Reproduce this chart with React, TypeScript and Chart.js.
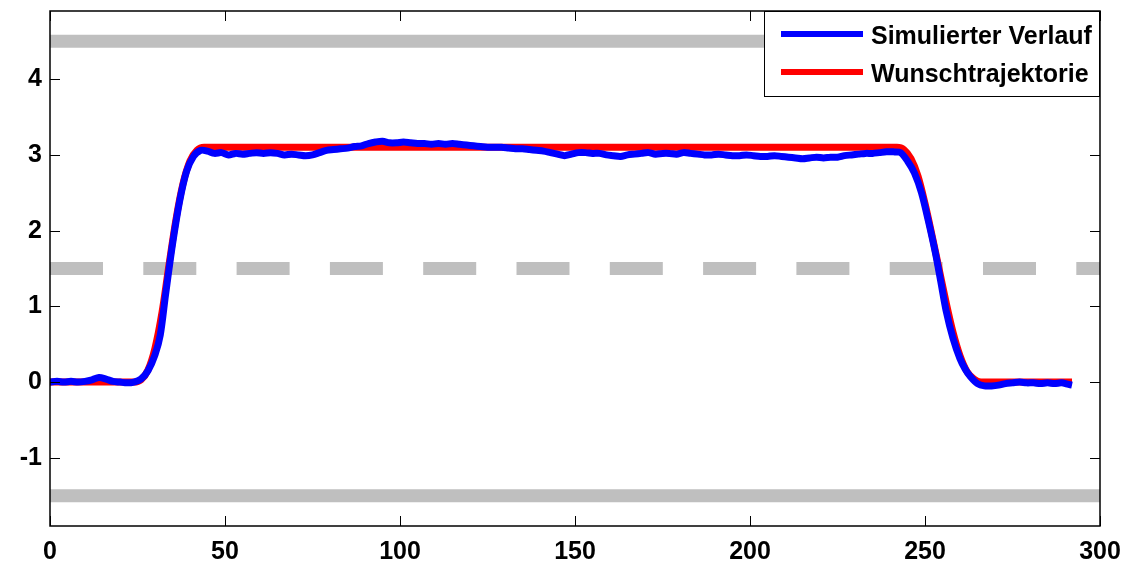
import React, { useEffect, useRef } from "react";
import { Chart, registerables } from "chart.js";

Chart.register(...registerables);

const xTicks = [0, 50, 100, 150, 200, 250, 300];
const yTicks = [-1, 0, 1, 2, 3, 4];

const seriesLabels = ["Simulierter Verlauf", "Wunschtrajektorie"];

const blueX = [
  0, 2, 4, 6, 8, 10, 12, 14, 16, 18, 20, 22, 24, 26, 28, 30, 31.5, 33, 35, 37, 39, 41, 43, 45, 47, 49,
  51, 53, 55, 57, 59, 61, 63, 65, 67, 69, 71, 73, 75, 77, 79, 81, 83, 85, 87, 89, 91, 93, 95, 97, 99,
  101, 103, 105, 107, 109, 111, 113, 115, 117, 119, 121, 123, 125, 127, 129, 131, 133, 135, 137, 139,
  141, 143, 145, 147, 149, 151, 153, 155, 157, 159, 161, 163, 165, 167, 169, 171, 173, 175, 177, 179,
  181, 183, 185, 187, 189, 191, 193, 195, 197, 199, 201, 203, 205, 207, 209, 211, 213, 215, 217, 219,
  221, 223, 225, 227, 229, 231, 233, 235, 237, 239, 241, 243, 245, 247, 249, 251, 253, 254.5, 256, 258,
  260, 261.5, 263, 265, 267, 269, 271, 273, 275, 277, 279, 281, 283, 285, 287, 289, 291, 292,
];
const blueY = [
  0.0, 0.01, 0.0, 0.01, 0.0, 0.01, 0.03, 0.06, 0.04, 0.01, 0.0, -0.01, 0.0, 0.04, 0.15, 0.36, 0.62, 1.15,
  1.82, 2.38, 2.78, 2.98, 3.06, 3.05, 3.02, 3.03,
  3.0, 3.02, 3.01, 3.02, 3.03, 3.02, 3.03, 3.02, 3.0, 3.01, 3.0, 2.99, 3.0, 3.03, 3.06, 3.07, 3.08, 3.09,
  3.11, 3.12, 3.15, 3.17, 3.18, 3.16, 3.16,
  3.17, 3.16, 3.15, 3.15, 3.14, 3.15, 3.14, 3.15, 3.14, 3.13, 3.12, 3.11, 3.1, 3.1, 3.1, 3.09, 3.08, 3.08,
  3.07, 3.06,
  3.05, 3.03, 3.01, 2.99, 3.01, 3.03, 3.03, 3.02, 3.02, 3.0, 2.99, 2.98, 3.0, 3.01, 3.02, 3.03, 3.01, 3.02,
  3.02, 3.01,
  3.03, 3.02, 3.01, 3.0, 3.0, 3.01, 3.0, 2.99, 2.99, 3.0, 2.99, 2.98, 2.98, 2.99, 2.98, 2.97, 2.96, 2.95,
  2.96, 2.97,
  2.96, 2.97, 2.97, 2.99, 3.0, 3.01, 3.02, 3.02, 3.03, 3.04, 3.04, 3.03, 2.92, 2.76, 2.5, 2.12, 1.7, 1.33,
  0.95, 0.58,
  0.31, 0.17, 0.07, -0.02, -0.05, -0.05, -0.04, -0.02, -0.01, 0.0, -0.01, -0.01, -0.02, -0.01, -0.02,
  -0.01, -0.03, -0.04,
];

const redX = [0, 24, 26, 28, 30, 32, 34, 36, 38, 40, 42, 44, 240, 242, 244, 246, 248, 250, 252, 254, 256, 258, 260, 262, 264, 266, 292];
const redY = [0, 0, 0.03, 0.16, 0.45, 0.92, 1.55, 2.15, 2.62, 2.92, 3.06, 3.1, 3.1, 3.1, 3.07, 2.95, 2.72, 2.36, 1.94, 1.5, 1.06, 0.66, 0.35, 0.14, 0.04, 0.0, 0.0];

const limitUpper = 4.5;
const limitLower = -1.5;
const limitMid = 1.5;
const xMin = 0;
const xMax = 300;
const yMin = -1.9;
const yMax = 4.9;

const BLUE = "#0000ff";
const RED = "#ff0000";
const GRAY = "#bfbfbf";
const FONT = "'Liberation Sans', Arial, sans-serif";

const framePlugin = {
  id: "framePlugin",
  afterDraw(chart: any) {
    const { ctx, chartArea, scales } = chart;
    const { left, right, top, bottom } = chartArea;
    ctx.save();
    ctx.strokeStyle = "#000";
    ctx.lineWidth = 1.5;
    ctx.strokeRect(left, top, right - left, bottom - top);
    ctx.lineWidth = 1;
    const tl = 10;
    ctx.beginPath();
    for (const v of xTicks) {
      const px = Math.round(scales.x.getPixelForValue(v)) + 0.5;
      ctx.moveTo(px, bottom);
      ctx.lineTo(px, bottom - tl);
      ctx.moveTo(px, top);
      ctx.lineTo(px, top + tl);
    }
    for (const v of yTicks) {
      const py = Math.round(scales.y.getPixelForValue(v)) + 0.5;
      ctx.moveTo(left, py);
      ctx.lineTo(left + tl, py);
      ctx.moveTo(right, py);
      ctx.lineTo(right - tl, py);
    }
    ctx.stroke();

    // legend
    const lx = 764;
    const ly = top;
    const lw = right - lx;
    const lh = 86;
    ctx.fillStyle = "#fff";
    ctx.fillRect(lx, ly, lw, lh);
    ctx.strokeStyle = "#000";
    ctx.lineWidth = 1;
    ctx.strokeRect(lx + 0.5, ly + 0.5, lw - 1, lh - 1);
    const rows = [
      { color: BLUE, label: seriesLabels[0], y: ly + 23 },
      { color: RED, label: seriesLabels[1], y: ly + 61 },
    ];
    for (const r of rows) {
      ctx.strokeStyle = r.color;
      ctx.lineWidth = 6;
      ctx.beginPath();
      ctx.moveTo(781, r.y);
      ctx.lineTo(863, r.y);
      ctx.stroke();
      ctx.fillStyle = "#000";
      ctx.font = `bold 25px ${FONT}`;
      ctx.textBaseline = "alphabetic";
      ctx.textAlign = "left";
      ctx.fillText(r.label, 871, r.y + 9.5);
    }
    ctx.restore();
  },
};

export default function App() {
  const canvasRef = useRef<HTMLCanvasElement | null>(null);

  useEffect(() => {
    document.body.style.margin = "0";
    const canvas = canvasRef.current;
    if (!canvas) return;
    const blueData = blueX.map((x, i) => ({ x, y: blueY[i] }));
    const redData = redX.map((x, i) => ({ x, y: redY[i] }));
    const hLine = (y: number) => [
      { x: xMin, y },
      { x: xMax, y },
    ];

    const chart = new Chart(canvas, {
      type: "line",
      data: {
        datasets: [
          {
            label: seriesLabels[0],
            data: blueData,
            borderColor: BLUE,
            borderWidth: 7,
            pointRadius: 0,
            tension: 0.3,
            borderJoinStyle: "round",
            order: 1,
          },
          {
            label: seriesLabels[1],
            data: redData,
            borderColor: RED,
            borderWidth: 7,
            pointRadius: 0,
            cubicInterpolationMode: "monotone",
            borderJoinStyle: "round",
            order: 2,
          },
          {
            label: "upper",
            data: hLine(limitUpper),
            borderColor: GRAY,
            borderWidth: 13,
            pointRadius: 0,
            order: 3,
          },
          {
            label: "lower",
            data: hLine(limitLower),
            borderColor: GRAY,
            borderWidth: 13,
            pointRadius: 0,
            order: 3,
          },
          {
            label: "mid",
            data: hLine(limitMid),
            borderColor: GRAY,
            borderWidth: 13,
            borderDash: [53, 40.3],
            pointRadius: 0,
            order: 3,
          },
        ],
      },
      options: {
        responsive: false,
        animation: false,
        layout: { padding: { top: 11, right: 29, left: 0, bottom: 0 } },
        plugins: {
          legend: { display: false },
          tooltip: { enabled: false },
        },
        scales: {
          x: {
            type: "linear",
            min: xMin,
            max: xMax,
            afterBuildTicks: (scale: any) => {
              scale.ticks = xTicks.map((v) => ({ value: v }));
            },
            afterFit: (scale: any) => {
              scale.height = 44;
              scale.paddingLeft = 0;
              scale.paddingRight = 0;
              scale.paddingTop = 0;
              scale.paddingBottom = 0;
            },
            grid: { display: false, drawTicks: false },
            border: { display: false },
            ticks: {
              color: "#000",
              padding: 11,
              maxRotation: 0,
              font: { family: FONT, size: 25, weight: "bold" },
            },
          },
          y: {
            type: "linear",
            min: yMin,
            max: yMax,
            afterBuildTicks: (scale: any) => {
              scale.ticks = yTicks.map((v) => ({ value: v }));
            },
            afterFit: (scale: any) => {
              scale.width = 50;
              scale.paddingLeft = 0;
              scale.paddingRight = 0;
              scale.paddingTop = 0;
              scale.paddingBottom = 0;
            },
            grid: { display: false, drawTicks: false },
            border: { display: false },
            ticks: {
              color: "#000",
              padding: 8,
              font: { family: FONT, size: 25, weight: "bold" },
            },
          },
        },
      },
      plugins: [framePlugin],
    } as any);
    return () => chart.destroy();
  }, []);

  return (
    <div style={{ width: 1129, height: 570 }}>
      <canvas ref={canvasRef} width={1129} height={570} style={{ display: "block" }} />
    </div>
  );
}
